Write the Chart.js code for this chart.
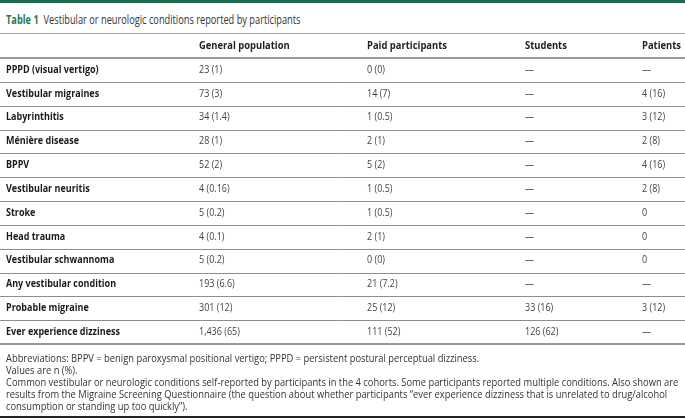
<!DOCTYPE html>
<html>
<head>
<meta charset="utf-8">
<script src="https://cdn.jsdelivr.net/npm/chart.js@4"></script>
<style>
  html, body { margin: 0; padding: 0; background: #fff; }
  #page { position: relative; width: 685px; height: 420px; overflow: hidden; font-family: "Open Sans", sans-serif; }
  #topbar { position: absolute; left: 0; top: 0; width: 685px; height: 3px; background: #1d6a4a; }
  #title { position: absolute; left: 6px; top: 11px; font-size: 12px; color: #333; white-space: nowrap;
           transform: scaleX(0.77); transform-origin: left top; }
  #title b { color: #1f7a52; }
  #titleline { position: absolute; left: 0; top: 33px; width: 685px; height: 1px; background: #7fb59b; }
  #notes { position: absolute; left: 6px; top: 352px; font-size: 10px; line-height: 12px; color: #333; }
  #notes div { white-space: nowrap; transform: scaleX(0.935); transform-origin: left top; }
  #bottomline { position: absolute; left: 0; top: 416px; width: 685px; height: 2px; background: #222; }
  canvas { position: absolute; left: 0; top: 0; }
</style>
</head>
<body>
<div id="page">
  <div id="topbar"></div>
  <div id="title"><b>Table 1</b>&nbsp; Vestibular or neurologic conditions reported by participants</div>
  <div id="titleline"></div>
  <canvas id="table-chart" width="685" height="420"></canvas>
  <div id="notes">
    <div>Abbreviations: BPPV = benign paroxysmal positional vertigo; PPPD = persistent postural perceptual dizziness.</div>
    <div>Values are n (%).</div>
    <div>Common vestibular or neurologic conditions self-reported by participants in the 4 cohorts. Some participants reported multiple conditions. Also shown are</div>
    <div>results from the Migraine Screening Questionnaire (the question about whether participants “ever experience dizziness that is unrelated to drug/alcohol</div>
    <div>consumption or standing up too quickly”).</div>
  </div>
  <div id="bottomline"></div>
</div>
<script>
// table data, one list per column
const columnHeaders = ['', 'General population', 'Paid participants', 'Students', 'Patients'];
const conditions = [
  'PPPD (visual vertigo)', 'Vestibular migraines', 'Labyrinthitis', 'Ménière disease', 'BPPV',
  'Vestibular neuritis', 'Stroke', 'Head trauma', 'Vestibular schwannoma',
  'Any vestibular condition', 'Probable migraine', 'Ever experience dizziness'
];
const generalPopulation = ['23 (1)', '73 (3)', '34 (1.4)', '28 (1)', '52 (2)', '4 (0.16)', '5 (0.2)', '4 (0.1)', '5 (0.2)', '193 (6.6)', '301 (12)', '1,436 (65)'];
const paidParticipants = ['0 (0)', '14 (7)', '1 (0.5)', '2 (1)', '5 (2)', '1 (0.5)', '1 (0.5)', '2 (1)', '0 (0)', '21 (7.2)', '25 (12)', '111 (52)'];
const students = ['—', '—', '—', '—', '—', '—', '—', '—', '—', '—', '33 (16)', '126 (62)'];
const patients = ['—', '4 (16)', '3 (12)', '2 (8)', '4 (16)', '2 (8)', '0', '0', '0', '—', '3 (12)', '—'];

// layout: left edge of each column on a 0..685 x scale
const columnX = [6, 199, 367, 525, 642];
const CELL_SX = 0.9;   // horizontal squeeze to match the narrow type
const HEAD_SX = 0.94;

const columns = [conditions, generalPopulation, paidParticipants, students, patients];

function drawText(ctx, text, x, y, font, color, sx) {
  ctx.save();
  ctx.translate(x, y);
  ctx.scale(sx, 1);
  ctx.font = font;
  ctx.fillStyle = color;
  ctx.textBaseline = 'middle';
  ctx.textAlign = 'left';
  ctx.fillText(text, 0, 0);
  ctx.restore();
}

// row rules, header and cell text
const tablePlugin = {
  id: 'tableCells',
  beforeDatasetsDraw(chart) {
    const { ctx, chartArea, scales } = chart;
    const y = scales.y;
    ctx.save();
    ctx.strokeStyle = '#8e8e8e';
    ctx.lineWidth = 1;
    for (let i = 1; i < conditions.length; i++) {
      const ly = Math.round((y.getPixelForValue(i - 1) + y.getPixelForValue(i)) / 2) + 0.5;
      ctx.beginPath();
      ctx.moveTo(0, ly);
      ctx.lineTo(chart.width, ly);
      ctx.stroke();
    }
    ctx.strokeStyle = '#999';
    ctx.lineWidth = 2;
    [chartArea.top, chartArea.bottom].forEach(ly => {
      ctx.beginPath();
      ctx.moveTo(0, ly);
      ctx.lineTo(chart.width, ly);
      ctx.stroke();
    });
    ctx.restore();

    // column headers sit above the first row
    const hy = chartArea.top - 12;
    columnHeaders.forEach((h, c) => {
      if (h) drawText(ctx, h, scales.x.getPixelForValue(columnX[c]), hy, 'bold 10px "Open Sans"', '#222', HEAD_SX);
    });
  },
  afterDatasetsDraw(chart) {
    const { ctx } = chart;
    chart.data.datasets.forEach((ds, di) => {
      const meta = chart.getDatasetMeta(di);
      meta.data.forEach((pt, i) => {
        drawText(ctx, ds.cellText[i], pt.x, pt.y, ds.cellFont, ds.cellColor, CELL_SX);
      });
    });
  }
};

const datasets = columns.map((col, c) => ({
  label: columnHeaders[c] || 'Condition',
  data: col.map((_, i) => ({ x: columnX[c], y: i })),
  cellText: col,
  cellFont: c === 0 ? 'bold 10px "Open Sans"' : '10px "Open Sans"',
  cellColor: c === 0 ? '#1a1a1a' : '#444',
  pointRadius: 0,
  pointHoverRadius: 0
}));

new Chart(document.getElementById('table-chart'), {
  type: 'scatter',
  data: { labels: conditions, datasets },
  options: {
    responsive: false,
    animation: false,
    events: [],
    layout: { padding: { top: 58, bottom: 76, left: 0, right: 0 } },
    plugins: { legend: { display: false }, tooltip: { enabled: false } },
    scales: {
      x: { type: 'linear', min: 0, max: 685, display: false },
      y: { type: 'category', labels: conditions, offset: true, display: false }
    }
  },
  plugins: [tablePlugin]
});
</script>
</body>
</html>
